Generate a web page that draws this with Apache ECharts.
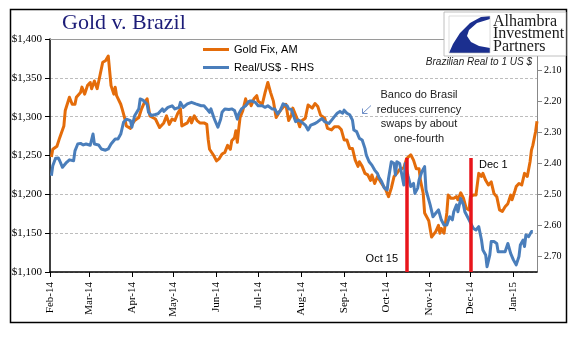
<!DOCTYPE html>
<html>
<head>
<meta charset="utf-8">
<script src="https://cdn.jsdelivr.net/npm/echarts@6/dist/echarts.min.js"></script>
<style>html,body{margin:0;padding:0;background:#fff}#c{width:577px;height:341px}</style>
</head>
<body>
<div id="c"></div>
<script>
const goldDates = ['2014-02-02','2014-02-03','2014-02-06','2014-02-08','2014-02-11','2014-02-12','2014-02-15','2014-02-17','2014-02-19','2014-02-20','2014-02-23','2014-02-24','2014-02-26','2014-02-28','2014-03-02','2014-03-03','2014-03-05','2014-03-07','2014-03-09','2014-03-11','2014-03-13','2014-03-15','2014-03-16','2014-03-17','2014-03-19','2014-03-20','2014-03-21','2014-03-24','2014-03-25','2014-03-27','2014-03-28','2014-03-31','2014-04-01','2014-04-03','2014-04-06','2014-04-08','2014-04-10','2014-04-12','2014-04-14','2014-04-18','2014-04-21','2014-04-24','2014-04-26','2014-04-28','2014-04-30','2014-05-02','2014-05-04','2014-05-06','2014-05-07','2014-05-09','2014-05-11','2014-05-13','2014-05-14','2014-05-16','2014-05-18','2014-05-20','2014-05-23','2014-05-25','2014-05-26','2014-05-27','2014-05-30','2014-06-01','2014-06-03','2014-06-05','2014-06-07','2014-06-09','2014-06-11','2014-06-12','2014-06-14','2014-06-15','2014-06-16','2014-06-17','2014-06-18','2014-06-20','2014-06-22','2014-06-23','2014-06-25','2014-06-26','2014-06-28','2014-06-30','2014-07-01','2014-07-04','2014-07-06','2014-07-08','2014-07-10','2014-07-12','2014-07-14','2014-07-17','2014-07-19','2014-07-21','2014-07-23','2014-07-25','2014-07-26','2014-07-29','2014-07-31','2014-08-01','2014-08-04','2014-08-06','2014-08-09','2014-08-11','2014-08-13','2014-08-15','2014-08-18','2014-08-20','2014-08-23','2014-08-25','2014-08-28','2014-08-30','2014-09-01','2014-09-03','2014-09-05','2014-09-07','2014-09-09','2014-09-11','2014-09-12','2014-09-14','2014-09-16','2014-09-18','2014-09-20','2014-09-21','2014-09-23','2014-09-25','2014-09-28','2014-10-01','2014-10-03','2014-10-05','2014-10-07','2014-10-09','2014-10-11','2014-10-14','2014-10-16','2014-10-19','2014-10-21','2014-10-23','2014-10-25','2014-10-26','2014-10-28','2014-10-29','2014-11-01','2014-11-03','2014-11-04','2014-11-06','2014-11-08','2014-11-09','2014-11-10','2014-11-12','2014-11-14','2014-11-15','2014-11-17','2014-11-19','2014-11-21','2014-11-22','2014-11-24','2014-11-26','2014-11-28','2014-11-30','2014-12-01','2014-12-03','2014-12-05','2014-12-07','2014-12-09','2014-12-10','2014-12-12','2014-12-14','2014-12-16','2014-12-18','2014-12-20','2014-12-22','2014-12-24','2014-12-26','2014-12-28','2014-12-30','2014-12-31','2015-01-02','2015-01-03','2015-01-05','2015-01-07','2015-01-09','2015-01-11','2015-01-13','2015-01-14','2015-01-15','2015-01-17','2015-01-18'];
const goldValues = [1248,1258,1262,1273,1288,1308,1325,1316,1316,1325,1331,1338,1329,1340,1344,1336,1346,1336,1353,1370,1372,1378,1379,1340,1329,1338,1327,1316,1310,1297,1288,1285,1290,1295,1299,1310,1318,1323,1301,1297,1286,1292,1301,1290,1297,1295,1304,1310,1288,1290,1292,1299,1292,1301,1295,1292,1292,1290,1271,1258,1250,1243,1246,1252,1254,1263,1258,1269,1273,1282,1267,1284,1299,1308,1323,1316,1320,1314,1323,1327,1320,1316,1331,1344,1331,1320,1299,1308,1312,1316,1295,1302,1311,1298,1287,1294,1298,1315,1311,1317,1313,1302,1298,1285,1283,1287,1287,1283,1270,1270,1259,1259,1244,1236,1242,1236,1227,1225,1218,1225,1214,1223,1214,1206,1197,1208,1223,1227,1232,1234,1246,1251,1244,1233,1233,1218,1201,1176,1166,1145,1144,1152,1160,1150,1156,1150,1176,1199,1195,1195,1197,1193,1202,1195,1182,1180,1197,1199,1199,1227,1223,1227,1218,1212,1216,1201,1197,1180,1178,1184,1188,1199,1193,1204,1210,1214,1212,1227,1223,1242,1257,1263,1281,1294];

const brlDates = ['2014-02-02','2014-02-03','2014-02-05','2014-02-07','2014-02-08','2014-02-10','2014-02-11','2014-02-13','2014-02-15','2014-02-18','2014-02-19','2014-02-21','2014-02-23','2014-02-25','2014-02-27','2014-03-02','2014-03-04','2014-03-05','2014-03-08','2014-03-10','2014-03-13','2014-03-15','2014-03-17','2014-03-20','2014-03-22','2014-03-24','2014-03-26','2014-03-28','2014-03-31','2014-04-01','2014-04-03','2014-04-06','2014-04-07','2014-04-09','2014-04-10','2014-04-12','2014-04-13','2014-04-15','2014-04-18','2014-04-20','2014-04-23','2014-04-24','2014-04-27','2014-04-30','2014-05-02','2014-05-05','2014-05-06','2014-05-08','2014-05-11','2014-05-12','2014-05-14','2014-05-17','2014-05-18','2014-05-21','2014-05-23','2014-05-25','2014-05-27','2014-05-28','2014-05-30','2014-05-31','2014-06-02','2014-06-04','2014-06-05','2014-06-07','2014-06-10','2014-06-12','2014-06-14','2014-06-16','2014-06-17','2014-06-19','2014-06-22','2014-06-24','2014-06-26','2014-06-29','2014-07-01','2014-07-04','2014-07-06','2014-07-08','2014-07-11','2014-07-13','2014-07-15','2014-07-17','2014-07-19','2014-07-22','2014-07-23','2014-07-25','2014-07-28','2014-07-30','2014-08-01','2014-08-04','2014-08-06','2014-08-08','2014-08-11','2014-08-13','2014-08-16','2014-08-18','2014-08-21','2014-08-23','2014-08-25','2014-08-27','2014-08-29','2014-08-31','2014-09-01','2014-09-03','2014-09-05','2014-09-07','2014-09-08','2014-09-10','2014-09-12','2014-09-14','2014-09-16','2014-09-17','2014-09-19','2014-09-21','2014-09-23','2014-09-25','2014-09-26','2014-09-28','2014-09-30','2014-10-02','2014-10-03','2014-10-05','2014-10-07','2014-10-08','2014-10-09','2014-10-11','2014-10-12','2014-10-14','2014-10-15','2014-10-17','2014-10-19','2014-10-21','2014-10-22','2014-10-24','2014-10-25','2014-10-27','2014-10-29','2014-10-30','2014-11-01','2014-11-02','2014-11-04','2014-11-06','2014-11-08','2014-11-10','2014-11-12','2014-11-14','2014-11-16','2014-11-18','2014-11-19','2014-11-21','2014-11-22','2014-11-24','2014-11-26','2014-11-27','2014-11-28','2014-11-30','2014-12-01','2014-12-03','2014-12-05','2014-12-07','2014-12-09','2014-12-10','2014-12-12','2014-12-13','2014-12-15','2014-12-16','2014-12-18','2014-12-20','2014-12-21','2014-12-22','2014-12-24','2014-12-26','2014-12-28','2014-12-29','2014-12-30','2015-01-01','2015-01-03','2015-01-05','2015-01-06','2015-01-08','2015-01-09','2015-01-10','2015-01-12','2015-01-14','2015-01-15'];
const brlValues = [2.440,2.408,2.384,2.383,2.392,2.413,2.413,2.397,2.389,2.392,2.360,2.338,2.336,2.341,2.338,2.342,2.306,2.338,2.341,2.354,2.358,2.354,2.338,2.322,2.322,2.306,2.268,2.258,2.263,2.284,2.247,2.225,2.193,2.197,2.195,2.210,2.236,2.246,2.243,2.240,2.225,2.233,2.220,2.215,2.225,2.220,2.204,2.220,2.209,2.215,2.204,2.209,2.204,2.215,2.215,2.225,2.236,2.225,2.252,2.263,2.284,2.258,2.236,2.225,2.227,2.225,2.230,2.258,2.241,2.225,2.215,2.202,2.199,2.204,2.215,2.215,2.220,2.215,2.225,2.225,2.241,2.230,2.209,2.215,2.225,2.227,2.266,2.261,2.266,2.277,2.293,2.277,2.272,2.266,2.256,2.266,2.272,2.261,2.250,2.239,2.233,2.239,2.229,2.239,2.244,2.261,2.293,2.298,2.320,2.325,2.352,2.374,2.395,2.406,2.422,2.433,2.444,2.459,2.480,2.486,2.449,2.395,2.401,2.438,2.395,2.401,2.395,2.470,2.401,2.440,2.475,2.465,2.497,2.480,2.454,2.427,2.411,2.486,2.518,2.534,2.572,2.561,2.550,2.582,2.599,2.599,2.572,2.582,2.556,2.534,2.556,2.513,2.534,2.556,2.561,2.582,2.582,2.609,2.615,2.604,2.647,2.679,2.695,2.733,2.695,2.652,2.652,2.658,2.685,2.685,2.685,2.685,2.658,2.658,2.690,2.711,2.727,2.700,2.663,2.647,2.668,2.631,2.636,2.620,2.620];

const goldTicks = {min: 1100, max: 1400, step: 50};
const brlTicks = {min: 2.0, max: 2.75, step: 0.1};
const eventDates = ['2014-10-16', '2014-12-01'];
const eventLabels = ['Oct 15', 'Dec 1'];
const monthNames = ['Jan','Feb','Mar','Apr','May','Jun','Jul','Aug','Sep','Oct','Nov','Dec'];

const chart = echarts.init(document.getElementById('c'), null, {renderer: 'canvas'});
const serif = 'Liberation Serif';
const sans = 'Liberation Sans';

const option = {
  animation: false,
  backgroundColor: '#fff',
  grid: {left: 50, top: 39, right: 40, bottom: 69, containLabel: false},
  legend: {
    orient: 'vertical', left: 203, top: 44, padding: 0, itemWidth: 26, itemHeight: 3, itemGap: 7,
    icon: 'rect', data: ['Gold Fix, AM', 'Real/US$ - RHS'],
    textStyle: {fontFamily: sans, fontSize: 11, color: '#000'}
  },
  xAxis: {
    type: 'time', min: '2014-02-01', max: '2015-01-18',
    minInterval: 28 * 86400000, maxInterval: 31 * 86400000,
    axisLine: {lineStyle: {color: '#000', width: 1.5}},
    axisTick: {show: true, length: 5, lineStyle: {color: '#000'}},
    axisLabel: {
      rotate: 90, fontFamily: serif, fontSize: 11, color: '#000', margin: 10,
      formatter: function (v) { const d = new Date(v); return monthNames[d.getMonth()] + '-' + String(d.getFullYear()).slice(2); }
    },
    splitLine: {show: false}
  },
  yAxis: [
    {
      type: 'value', position: 'left', min: goldTicks.min, max: goldTicks.max, interval: goldTicks.step,
      axisLine: {show: true, lineStyle: {color: '#000', width: 1.5}},
      axisTick: {show: true, length: 5, lineStyle: {color: '#000'}},
      axisLabel: {fontFamily: serif, fontSize: 11, color: '#000', margin: 8,
        formatter: v => '$' + v.toLocaleString('en-US')},
      splitLine: {show: true, lineStyle: {color: '#bdbdbd', type: [3, 2], width: 1}}
    },
    {
      type: 'value', position: 'right', inverse: true, min: brlTicks.min, max: brlTicks.max, interval: brlTicks.step,
      axisLine: {show: true, lineStyle: {color: '#888', width: 1}},
      axisTick: {show: true, length: 5, lineStyle: {color: '#888'}},
      axisLabel: {fontFamily: serif, fontSize: 10, color: '#000', margin: 7, showMinLabel: false, showMaxLabel: false,
        formatter: v => v.toFixed(2)},
      splitLine: {show: false}
    }
  ],
  series: [
    {
      name: 'Gold Fix, AM', type: 'line', yAxisIndex: 0, showSymbol: false, z: 2,
      itemStyle: {color: '#E46C0A'},
      lineStyle: {color: '#E46C0A', width: 3, join: 'round'},
      data: goldDates.map((d, i) => [d, goldValues[i]]),
      markLine: {
        silent: true, symbol: 'none', label: {show: false},
        data: [
          {yAxis: goldTicks.max, lineStyle: {color: '#9a9a9a', width: 1, type: 'solid'}}
        ]
      }
    },
    {
      name: 'Real/US$ - RHS', type: 'line', yAxisIndex: 1, showSymbol: false, z: 3,
      itemStyle: {color: '#4A7EBB'},
      lineStyle: {color: '#4A7EBB', width: 3, join: 'round'},
      data: brlDates.map((d, i) => [d, brlValues[i]]),
      markLine: {
        silent: true, symbol: 'none', z: 6,
        lineStyle: {color: '#E8151B', width: 3.5, type: 'solid'},
        data: eventDates.map((d, i) => [
          {coord: [d, 2.383], label: {show: false}},
          {coord: [d, brlTicks.max]}
        ])
      }
    }
  ],
  graphic: [
    {type: 'rect', shape: {x: 10.5, y: 9.5, width: 556, height: 313}, style: {fill: 'none', stroke: '#000', lineWidth: 1.5}, z: 100, silent: true},
    {type: 'text', x: 62, y: 23, style: {text: 'Gold v. Brazil', font: '22px "Liberation Serif"', fill: '#1c1c78', textVerticalAlign: 'middle'}, z: 100},
    {type: 'rect', shape: {x: 444, y: 12, width: 122, height: 44}, style: {fill: '#fff', stroke: '#b0b0b0', lineWidth: 0.8}, z: 100},
    {type: 'polygon', shape: {points: [[490,16],[481,17],[470,23],[460,33],[453,44],[449,53],[490,53],[490,48],[479,46],[471,42],[467,36],[469,30],[477,23],[490,19]]}, style: {fill: '#1b2f8f'}, z: 101},
    {type: 'rect', shape: {x: 449, y: 16, width: 41, height: 37}, style: {fill: 'none', stroke: '#c8c8c8', lineWidth: 0.6}, z: 101},
    {type: 'text', x: 493, y: 21.6, style: {text: 'Alhambra', font: '16px "Liberation Serif"', fill: '#1a1a1a', textVerticalAlign: 'middle'}, z: 101},
    {type: 'text', x: 493, y: 34.1, style: {text: 'Investment', font: '16px "Liberation Serif"', fill: '#1a1a1a', textVerticalAlign: 'middle'}, z: 101},
    {type: 'text', x: 493, y: 46.6, style: {text: 'Partners', font: '16px "Liberation Serif"', fill: '#1a1a1a', textVerticalAlign: 'middle'}, z: 101},
    {type: 'text', x: 532, y: 62, style: {text: 'Brazilian Real to 1 US $', font: 'italic 10px "Liberation Sans"', fill: '#222', textAlign: 'right', textVerticalAlign: 'middle'}, z: 100},
    {type: 'text', x: 419, y: 117, style: {text: 'Banco do Brasil\nreduces currency\nswaps by about\none-fourth', font: '11px "Liberation Sans"', lineHeight: 14.5, fill: '#222', textAlign: 'center', textVerticalAlign: 'middle'}, z: 100},
    {type: 'polyline', shape: {points: [[371,105.5],[362.5,113.5]]}, style: {stroke: '#6f8fc7', lineWidth: 1}, z: 100},
    {type: 'polyline', shape: {points: [[362.5,108.5],[362.5,113.5],[367.5,113.5]]}, style: {stroke: '#6f8fc7', lineWidth: 1, fill: 'none'}, z: 100},
    {type: 'text', x: 398, y: 259, style: {text: eventLabels[0], font: '11px "Liberation Sans"', fill: '#000', textAlign: 'right', textVerticalAlign: 'middle'}, z: 100},
    {type: 'text', x: 479, y: 165, style: {text: eventLabels[1], font: '11px "Liberation Sans"', fill: '#000', textAlign: 'left', textVerticalAlign: 'middle'}, z: 100}
  ]
};
chart.setOption(option);
</script>
</body>
</html>
